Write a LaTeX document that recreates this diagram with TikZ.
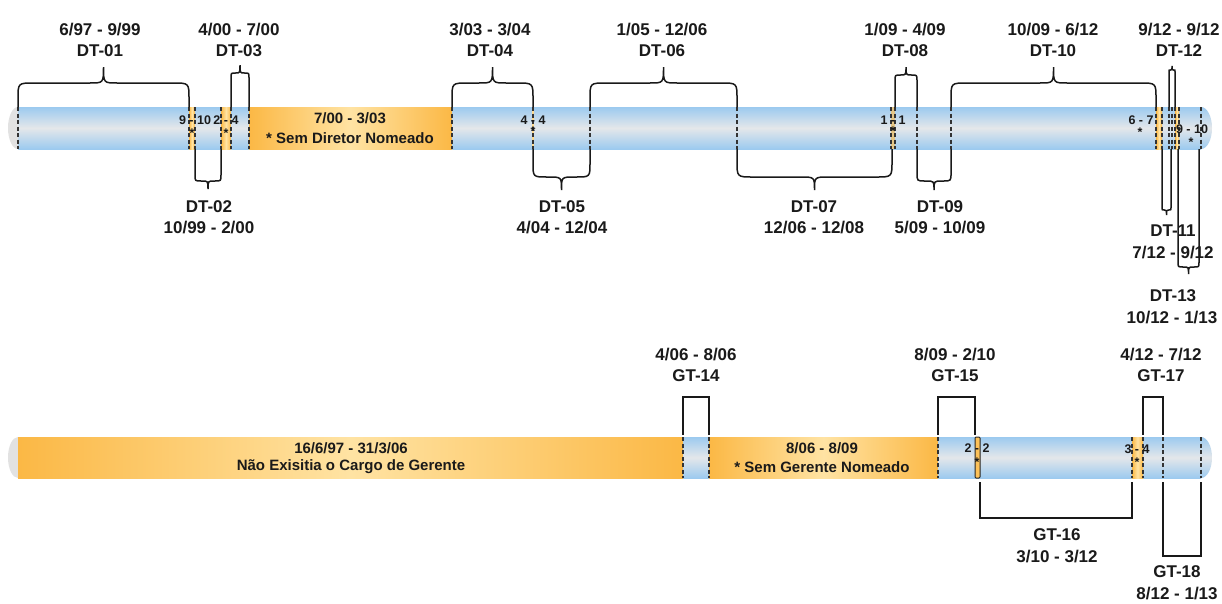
\documentclass[tikz,border=0pt]{standalone}
\usepackage{fontspec}
\setmainfont{Liberation Sans}
\definecolor{barblue}{HTML}{9CCAEF}
\definecolor{barmid}{HTML}{E4E7EA}
\definecolor{barorange}{HTML}{FBB845}
\definecolor{barlight}{HTML}{FFE3A3}
\definecolor{capgrey}{HTML}{E2E2E2}
\definecolor{txt}{HTML}{1A1A1A}
\newcommand{\bseg}[4]{\shade[top color=barblue,bottom color=barblue,middle color=barmid] (#1,#3) rectangle (#2,#4);}
\newcommand{\oseg}[4]{\shade[left color=barorange,right color=barorange,middle color=barlight] (#1,#3) rectangle (#2,#4);}
\newcommand{\dl}[3]{\draw[dln] (#1,#2) -- (#1,#3);}
% x1, x2, y of bar edge, y of brace line, y of cusp, corner radius, cusp half width
\newcommand{\cbrace}[7]{%
  \pgfmathsetmacro{\cbxm}{(#1+#2)/2}%
  \pgfmathsetmacro{\cbs}{(#4<#3)?1:-1}%
  \pgfmathsetmacro{\cbyc}{#4+\cbs*#6}%
  \draw[brc] (#1,#3) -- (#1,\cbyc) .. controls (#1,#4) .. (#1+#6,#4) -- (\cbxm-#7,#4) .. controls (\cbxm,#4) .. (\cbxm,#5) .. controls (\cbxm,#4) .. (\cbxm+#7,#4) -- (#2-#6,#4) .. controls (#2,#4) .. (#2,\cbyc) -- (#2,#3);}
\newcommand{\sbrack}[4]{\draw[brc] (#1,#3) -- (#1,#4) -- (#2,#4) -- (#2,#3);}
\begin{document}
\begin{tikzpicture}[x=1pt,y=-1pt,
  lbl/.style={font=\fontsize{17}{20}\selectfont\bfseries, text=txt, inner sep=0pt},
  inl/.style={font=\fontsize{15}{18}\selectfont\bfseries, text=txt, inner sep=0pt},
  sml/.style={font=\fontsize{12.5}{14}\selectfont\bfseries, text=txt, inner sep=0pt},
  brc/.style={draw=black!90, line width=1.5pt},
  dln/.style={draw=black!80, line width=1.2pt, dash pattern=on 4pt off 2.5pt},
]
\useasboundingbox (0,0) rectangle (1222,603);
\fill[white] (0,0) rectangle (1222,603);

% ===== top bar =====
\fill[capgrey] (18,128) ellipse [x radius=10, y radius=21];
\shade[top color=barblue,bottom color=barblue,middle color=barmid] (1201,128) ellipse [x radius=11, y radius=21];
\bseg{18}{189}{107}{149}
\oseg{189}{195}{107}{149}
\bseg{195}{221}{107}{149}
\oseg{221}{231}{107}{149}
\bseg{231}{249}{107}{149}
\oseg{249}{452}{107}{149}
\bseg{452}{1201}{107}{149}
\fill[barlight!80!barorange] (532,107) rectangle (534,149);
\fill[barlight!70!barorange!80!gray] (891,107) rectangle (895,149);
\oseg{1156}{1162}{107}{149}
\oseg{1175}{1179}{107}{149}
\foreach \xx in {18,189,195,221,231,249,452,533,590,737,891,895,917,951,1156,1162,1169,1172,1175,1179,1201} {\dl{\xx}{107}{149}}

% ===== bottom bar =====
\fill[capgrey] (18,457.5) ellipse [x radius=10, y radius=20.5];
\shade[top color=barblue,bottom color=barblue,middle color=barmid] (1201,457.5) ellipse [x radius=11, y radius=20.5];
\oseg{18}{683}{437}{478}
\bseg{683}{709}{437}{478}
\oseg{709}{938}{437}{478}
\bseg{938}{1201}{437}{478}
\oseg{1132}{1143}{437}{478}
\foreach \xx in {683,709,938,1132,1143,1163,1201} {\dl{\xx}{437}{478}}
\draw[black!85, line width=1pt, fill=barorange!80!barlight, rounded corners=1pt] (975,437) rectangle (980,478);

% ===== inner texts =====
\node[inl] (t1a) at (350,118) {7/00 - 3/03};
\node[inl] (t1b) at (350,138) {* Sem Diretor Nomeado};
\node[inl] (b1a) at (351,448) {16/6/97 - 31/3/06};
\node[inl] (b1b) at (351,467) {Não Exisitia o Cargo de Gerente};
\node[inl] (b2a) at (822,448) {8/06 - 8/09};
\node[inl] (b2b) at (822,467) {* Sem Gerente Nomeado};

\node[sml] (s1) at (195,120) {9 - 10}; \node[sml] (s1s) at (192,133) {*};
\node[sml] (s2) at (226,120) {2 - 4};  \node[sml] (s2s) at (226,133) {*};
\node[sml] (s3) at (533,120) {4 - 4};  \node[sml] (s3s) at (533,131) {*};
\node[sml] (s4) at (893,120) {1 - 1};  \node[sml] (s4s) at (893,131) {*};
\node[sml] (s5) at (1141,120) {6 - 7}; \node[sml] (s5s) at (1140,132) {*};
\node[sml] (s6) at (1192,129) {9 - 10}; \node[sml] (s6s) at (1191,142) {*};
\node[sml] (s7) at (977,448) {2 - 2};  \node[sml] (s7s) at (977,462) {*};
\node[sml] (s8) at (1137,449) {3 - 4}; \node[sml] (s8s) at (1137,462) {*};

% ===== braces =====
\cbrace{18}{189}{107}{83}{67}{16}{14}
\cbrace{195}{221}{149}{181}{189}{6}{6}
\cbrace{231}{249}{107}{73}{65}{4.5}{4.5}
\cbrace{452}{533}{107}{83}{67}{16}{14}
\cbrace{533}{590}{149}{177}{190}{14}{13}
\cbrace{590}{737}{107}{83}{67}{16}{14}
\cbrace{737}{892}{149}{177}{190}{16}{14}
\cbrace{895}{917}{107}{75}{67}{5.5}{5.5}
\cbrace{917}{951}{149}{181}{190}{8}{8}
\cbrace{951}{1156}{107}{83}{67}{16}{14}
\cbrace{1162}{1171}{149}{210}{215}{2.25}{2.25}
\cbrace{1169}{1175}{107}{70}{66}{1.5}{1.5}
\cbrace{1178}{1199}{149}{267}{274}{5}{5}

\sbrack{683}{709}{435}{397}
\sbrack{938}{975}{435}{397}
\sbrack{980}{1132}{482}{518}
\sbrack{1143}{1163}{435}{397}
\sbrack{1163}{1201}{482}{556}

% ===== labels =====
\node[lbl] (d01a) at (100,30) {6/97 - 9/99};   \node[lbl] (d01) at (100,51) {DT-01};
\node[lbl] (d03a) at (239,30) {4/00 - 7/00};   \node[lbl] (d03) at (239,51) {DT-03};
\node[lbl] (d04a) at (490,30) {3/03 - 3/04};   \node[lbl] (d04) at (490,51) {DT-04};
\node[lbl] (d06a) at (662,30) {1/05 - 12/06};  \node[lbl] (d06) at (662,51) {DT-06};
\node[lbl] (d08a) at (905,30) {1/09 - 4/09};   \node[lbl] (d08) at (905,51) {DT-08};
\node[lbl] (d10a) at (1053,30) {10/09 - 6/12}; \node[lbl] (d10) at (1053,51) {DT-10};
\node[lbl] (d12a) at (1179,30) {9/12 - 9/12};  \node[lbl] (d12) at (1179,51) {DT-12};

\node[lbl] (d02) at (209,207) {DT-02};  \node[lbl] (d02a) at (209,228) {10/99 - 2/00};
\node[lbl] (d05) at (562,207) {DT-05};  \node[lbl] (d05a) at (562,228) {4/04 - 12/04};
\node[lbl] (d07) at (814,207) {DT-07};  \node[lbl] (d07a) at (814,228) {12/06 - 12/08};
\node[lbl] (d09) at (940,207) {DT-09};  \node[lbl] (d09a) at (940,228) {5/09 - 10/09};
\node[lbl] (d11) at (1173,231) {DT-11}; \node[lbl] (d11a) at (1173,253) {7/12 - 9/12};
\node[lbl] (d13) at (1173,296) {DT-13}; \node[lbl] (d13a) at (1172,318) {10/12 - 1/13};

\node[lbl] (g14a) at (696,355) {4/06 - 8/06};  \node[lbl] (g14) at (696,376) {GT-14};
\node[lbl] (g15a) at (955,355) {8/09 - 2/10};  \node[lbl] (g15) at (955,376) {GT-15};
\node[lbl] (g17a) at (1161,355) {4/12 - 7/12}; \node[lbl] (g17) at (1161,376) {GT-17};
\node[lbl] (g16) at (1057,535) {GT-16}; \node[lbl] (g16a) at (1057,556) {3/10 - 3/12};
\node[lbl] (g18) at (1177,572) {GT-18}; \node[lbl] (g18a) at (1177,593) {8/12 - 1/13};
\end{tikzpicture}
\end{document}
